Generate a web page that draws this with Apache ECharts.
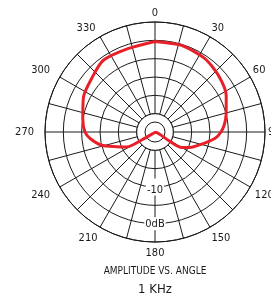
<!DOCTYPE html>
<html>
<head>
<meta charset="utf-8">
<script src="https://cdn.jsdelivr.net/npm/echarts@6/dist/echarts.min.js"></script>
<style>
  html, body { margin: 0; padding: 0; background: #fff; }
  #chart { width: 271px; height: 298px; }
</style>
</head>
<body>
<div id="chart"></div>
<script>
// polar response: compass angle (deg, clockwise from front) and level (dB)
const angles = [0, 17, 34, 48, 63, 76, 84, 90, 96, 103, 114, 120, 122, 125, 236, 239, 242, 249, 256, 264, 270, 280, 296, 310, 324, 342, 360];
const levels = [-0.3, -0.3, -0.8, -1.8, -3.2, -5.0, -6.0, -7.0, -8.5, -11.3, -14.6, -16.5, -20.9, -24.9, -24.9, -20.9, -16.3, -13.8, -10.0, -7.3, -5.9, -5.0, -3.3, -2.4, -0.9, -1.1, -0.3];
const angleTicks = [0, 30, 60, 90, 120, 150, 180, 210, 240, 270, 300, 330];
const dbTicks = { '0': '0dB', '-10': '-10' };

const font = "'Liberation Sans Narrow', 'DejaVu Sans Condensed', sans-serif";
const ink = '#1a1a1a';
const center = [155, 132];

// small per-label nudges so the angle labels sit where the original puts them
const labelPad = {
    '120': [1, 0, 0, 2], '150': [3, 0, 0, 0], '180': [3, 0, 0, 0],
    '210': [3, 1, 0, 0], '240': [1, 7, 0, 0], '270': [0, 8, 0, 0],
    '300': [0, 7, 0, 0], '330': [0, 3, 0, 0]
};
const angleRich = {};
angleTicks.forEach(t => { angleRich['a' + t] = { padding: labelPad[t] || [0, 0, 0, 0] }; });

const chart = echarts.init(document.getElementById('chart'));

chart.setOption({
    animation: false,
    title: [
        {
            text: 'AMPLITUDE VS. ANGLE',
            left: 155,
            top: 266.5,
            padding: 0,
            textAlign: 'center',
            textStyle: { fontFamily: font, fontSize: 10, fontWeight: 'normal', color: ink }
        },
        {
            text: '1 KHz',
            left: 155,
            top: 283.5,
            padding: 0,
            textAlign: 'center',
            textStyle: { fontFamily: font, fontSize: 13, fontWeight: 'normal', color: ink }
        }
    ],
    polar: [
        { center: center, radius: [0, 110] },
        { center: center, radius: [0, 110] },     // carries the dB labels, pointing down
        { center: center, radius: [0, 18.3] },    // blank hub where the spokes stop
        { center: center, radius: 10 }            // small inner circle
    ],
    angleAxis: [
        {
            polarIndex: 0,
            type: 'value',
            min: 0,
            max: 360,
            interval: 15,
            startAngle: 90,
            clockwise: true,
            axisLine: { lineStyle: { color: ink, width: 1 } },
            axisTick: { show: false },
            splitLine: { lineStyle: { color: ink, width: 1 } },
            axisLabel: {
                margin: 3,
                fontFamily: font,
                fontSize: 11,
                color: ink,
                rich: angleRich,
                formatter: v => angleTicks.indexOf(v) >= 0 ? '{a' + v + '|' + v + '}' : ''
            }
        },
        {
            polarIndex: 1,
            type: 'value',
            min: 0,
            max: 360,
            startAngle: 270,
            show: false
        },
        {
            polarIndex: 2,
            type: 'value',
            min: 0,
            max: 360,
            interval: 90,
            z: 3,
            axisLine: { lineStyle: { color: ink, width: 1 } },
            axisTick: { show: false },
            axisLabel: { show: false },
            splitLine: { show: false },
            splitArea: { show: true, areaStyle: { color: ['#fff'] } }
        },
        {
            polarIndex: 3,
            type: 'value',
            min: 0,
            max: 360,
            interval: 90,
            z: 4,
            axisLine: { lineStyle: { color: ink, width: 1 } },
            axisTick: { show: false },
            axisLabel: { show: false },
            splitLine: { show: false }
        }
    ],
    radiusAxis: [
        {
            polarIndex: 0,
            min: -25,
            max: 5,
            interval: 5,
            axisLine: { show: false },
            axisTick: { show: false },
            axisLabel: { show: false },
            splitLine: { lineStyle: { color: ink, width: 1 } }
        },
        {
            polarIndex: 1,
            min: -25,
            max: 5,
            interval: 5,
            z: 10,
            axisLine: { show: false },
            axisTick: { show: false },
            splitLine: { show: false },
            axisLabel: {
                margin: 0,
                align: 'center',
                verticalAlign: 'middle',
                fontFamily: font,
                fontSize: 11,
                color: ink,
                rich: {
                    d: { backgroundColor: '#fff', padding: [1, 1, 1, 1] },
                    m: { backgroundColor: '#fff', padding: [6, 1, 0, 1] }
                },
                formatter: v => {
                    const s = dbTicks[String(v)];
                    if (!s) return '';
                    return v === -10 ? '{m|' + s + '}' : '{d|' + s + '}';
                }
            }
        },
        { polarIndex: 2, min: 0, max: 1, show: false },
        { polarIndex: 3, min: 0, max: 1, show: false }
    ],
    series: [
        {
            type: 'line',
            coordinateSystem: 'polar',
            polarIndex: 0,
            clip: false,
            smooth: 0.25,
            symbol: 'none',
            z: 5,
            lineStyle: { color: '#e8202a', width: 3, join: 'round' },
            data: angles.map((a, i) => [levels[i], a])
        }
    ]
});
</script>
</body>
</html>
